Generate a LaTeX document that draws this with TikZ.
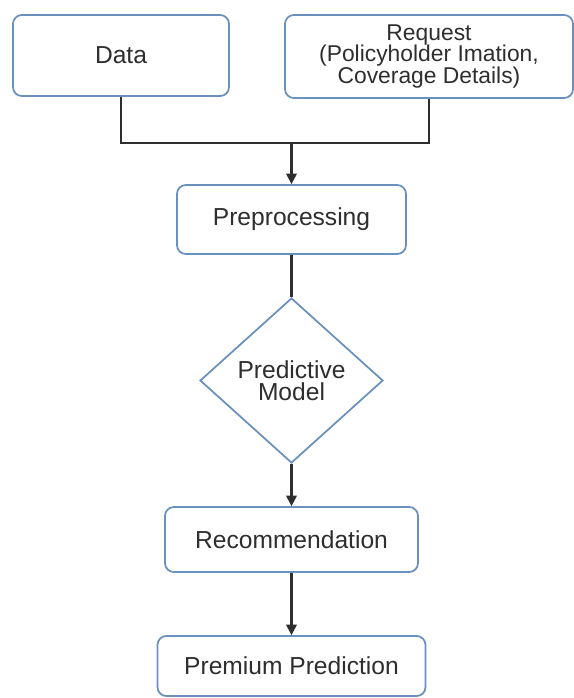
\documentclass[tikz,border=0pt]{standalone}
\usepackage{fontspec}
\setmainfont{Liberation Sans}
\usetikzlibrary{shapes.geometric,arrows.meta}

\definecolor{boxline}{HTML}{6A90BE}
\definecolor{ink}{HTML}{2E2E2E}

\tikzset{
  box/.style={draw=boxline,line width=1pt,fill=white,rounded corners=5pt,
    text=ink,align=center,inner sep=0pt,font=\fontsize{14}{12.5}\selectfont},
  decision/.style={diamond,draw=boxline,line width=1pt,fill=white,
    text=ink,align=center,inner sep=0pt,aspect=1.1,font=\fontsize{14}{12.5}\selectfont},
  link/.style={draw=ink,line width=1.2pt},
  flow/.style={link,-{Triangle[length=6pt,width=6pt]}}
}

\begin{document}
\begin{tikzpicture}[x=0.02cm,y=-0.02cm]
\useasboundingbox (0,0) rectangle (574,698);

\node[box,minimum width=4.32cm,minimum height=1.62cm] (data) at (121,55.5) {Data};
\node[box,minimum width=5.76cm,minimum height=1.66cm,font=\fontsize{13}{12.5}\selectfont] (request) at (429,56.5)
  {Request\\(Policyholder Imation,\\Coverage Details)};

\node[box,minimum width=4.58cm,minimum height=1.38cm] (prep) at (291.5,219.5) {Preprocessing};
\node[decision,minimum width=3.66cm,minimum height=3.3cm] (model) at (291.5,380.5) {Predictive\\Model};
\node[box,minimum width=5.06cm,minimum height=1.3cm] (recom) at (291.5,539.5) {Recommendation};
\node[box,minimum width=5.36cm,minimum height=1.2cm] (premium) at (291.5,666) {Premium Prediction};

\coordinate (join) at (291.5,143);

\draw[link] (data.south) |- (join) -| (request.south);
\draw[flow] (join) -- (prep.north);
\draw[link] (prep.south) -- (model.north);
\draw[flow] (model.south) -- (recom.north);
\draw[flow] (recom.south) -- (premium.north);

\end{tikzpicture}
\end{document}
